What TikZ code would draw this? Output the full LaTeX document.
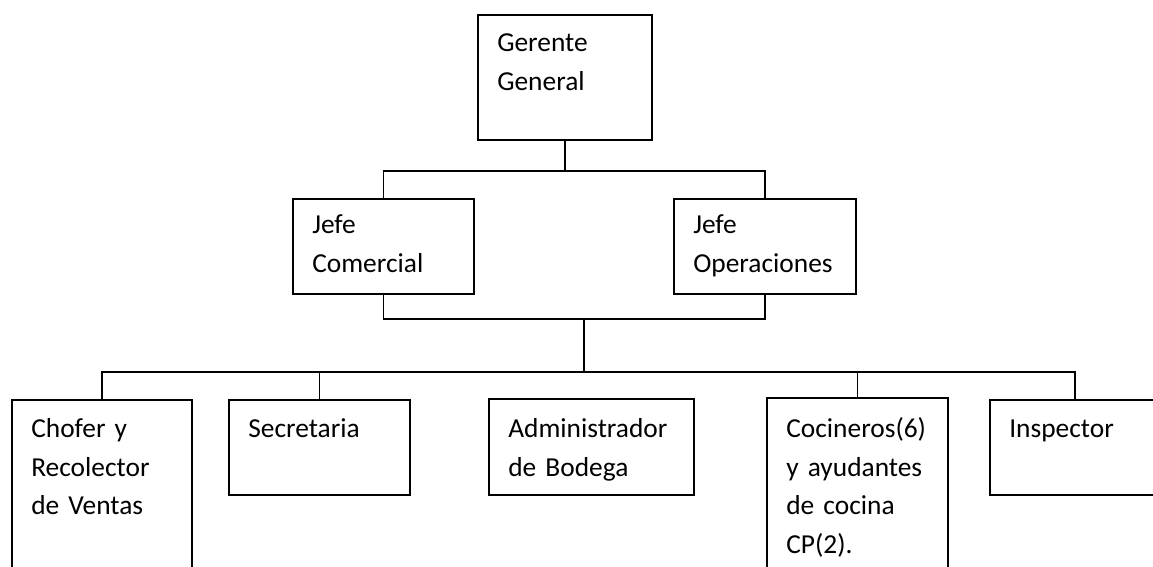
\documentclass[tikz,border=0pt]{standalone}
\usepackage{fontspec}
\setmainfont{Carlito}
\tikzset{
  orgbox/.style n args={3}{draw, line width=1.6pt, anchor=north west,
    inner xsep=19.5pt, inner ysep=0pt, align=left,
    text width=#1pt-39pt, text height=#3pt, text depth=#2pt-#3pt},
  link/.style={line width=1.6pt}
}
\begin{document}
\begin{tikzpicture}[x=1pt,y=-1pt,font=\fontsize{27.4}{38.5}\selectfont]
  \useasboundingbox (0,0) rectangle (1153,567);
  \clip (0,0) rectangle (1153,567);
  % top
  \node[orgbox={174}{125}{37}] (gerente) at (477,14) {Gerente\\General};
  % second level
  \node[orgbox={181}{95}{35}] (jefecom) at (292,198) {Jefe\\Comercial};
  \node[orgbox={182}{95}{35}] (jefeop) at (673,198) {Jefe\\Operaciones};
  % third level
  \node[orgbox={180}{200}{38}] (chofer) at (11,399) {Chofer y\\Recolector\\de Ventas};
  \node[orgbox={181}{95}{38}] (secre) at (228,399) {Secretaria};
  \node[orgbox={205}{96}{39}] (admin) at (488,398) {Administrador\\de Bodega};
  \node[orgbox={181}{200}{40}] (cocina) at (766,397) {Cocineros(6)\\y ayudantes\\de cocina\\CP(2).};
  \node[orgbox={170}{95}{38}] (inspector) at (989,399) {Inspector};
  % connectors
  \coordinate (upbar) at (0,171);
  \coordinate (midbar) at (584,319);
  \coordinate (lowbar) at (0,372);
  \draw[link] (gerente.south) -- (gerente.south |- upbar);
  \draw[link] (jefecom.north) -- (jefecom.north |- upbar) -| (jefeop.north);
  \draw[link] (jefecom.south) -- (jefecom.south |- midbar) -| (jefeop.south);
  \draw[link] (midbar) -- (midbar |- lowbar);
  \draw[link] (chofer.north) -- (chofer.north |- lowbar) -| (inspector.north);
  \draw[link] (secre.north) -- (secre.north |- lowbar);
  \draw[link] (cocina.north) -- (cocina.north |- lowbar);
\end{tikzpicture}
\end{document}
